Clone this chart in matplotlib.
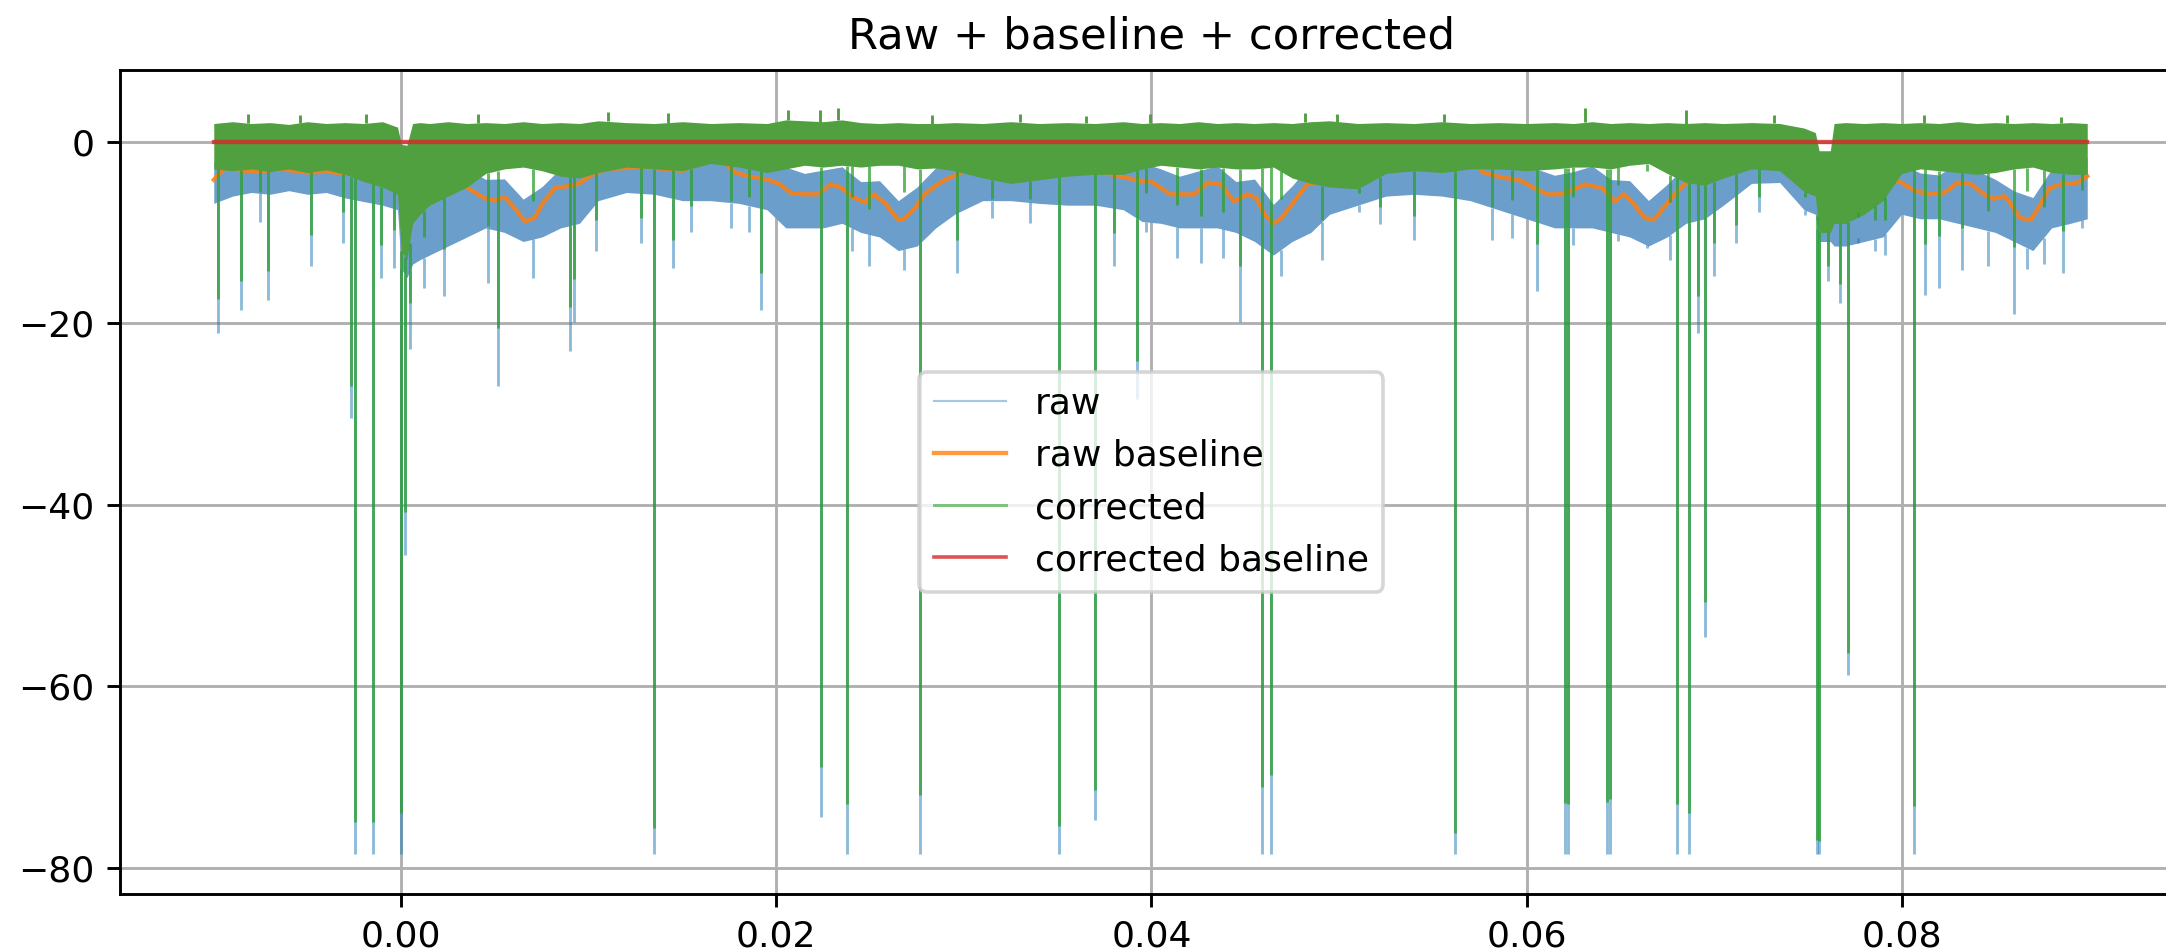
import numpy as np
import matplotlib.pyplot as plt
from matplotlib.lines import Line2D

# raw baseline (orange)
base_x = [-0.0100, -0.0094, -0.0085, -0.0075, -0.0065, -0.0050, -0.0040, -0.0030, -0.0020,
          -0.0012, -0.0007, 0.0000, 0.0008, 0.0016, 0.0022, 0.0028, 0.0034, 0.0044, 0.0050,
          0.0055, 0.0060, 0.0066, 0.0071, 0.0076, 0.0082, 0.0089, 0.0095, 0.0102, 0.0110,
          0.0130, 0.0150, 0.0160, 0.0171, 0.0178, 0.0185, 0.0190, 0.0197, 0.0202, 0.0208,
          0.0215, 0.0222, 0.0229, 0.0234, 0.0240, 0.0247, 0.0252, 0.0258, 0.0265, 0.0268,
          0.0274, 0.0279, 0.0286, 0.0291, 0.0297, 0.0307, 0.0320, 0.0346, 0.0357, 0.0375,
          0.0382, 0.0394, 0.0400, 0.0405, 0.0410, 0.0423, 0.0430, 0.0437, 0.0444, 0.0451,
          0.0456, 0.0460, 0.0465, 0.0469, 0.0476, 0.0483, 0.0490, 0.0501, 0.0508, 0.0519,
          0.0531, 0.0551, 0.0560, 0.0569, 0.0577, 0.0586, 0.0597, 0.0604, 0.0611, 0.0618,
          0.0625, 0.0631, 0.0640, 0.0647, 0.0652, 0.0657, 0.0663, 0.0668, 0.0673, 0.0679,
          0.0684, 0.0691, 0.0700, 0.0707, 0.0716, 0.0727, 0.0734, 0.0746, 0.0757, 0.0793,
          0.0799, 0.0807, 0.0815, 0.0823, 0.0830, 0.0837, 0.0844, 0.0849, 0.0855, 0.0858,
          0.0863, 0.0869, 0.0874, 0.0879, 0.0885, 0.0894, 0.0899]
base_y = [-4.2, -2.9, -3.2, -3.3, -3.0, -3.4, -3.3, -3.5, -3.6,
          -3.5, -3.9, -4.5, -5.4, -5.7, -5.3, -4.7, -4.9, -6.2, -6.5,
          -6.1, -7.2, -8.8, -8.4, -6.6, -5.1, -4.9, -4.6, -3.6, -3.0,
          -2.8, -3.2, -2.2, -2.0, -3.4, -3.8, -4.0, -4.3, -4.7, -5.7,
          -5.8, -5.8, -4.7, -5.0, -6.0, -6.7, -5.8, -6.8, -8.6, -8.5,
          -7.3, -5.8, -4.7, -4.1, -3.6, -2.2, -2.0, -3.1, -3.1, -3.4,
          -3.8, -4.3, -4.4, -5.1, -5.8, -5.8, -4.5, -4.7, -6.6, -5.8,
          -6.2, -7.9, -9.0, -8.5, -6.6, -4.7, -4.4, -3.5, -2.2, -1.8,
          -2.2, -3.1, -2.5, -1.6, -3.4, -3.9, -4.3, -5.1, -5.8, -5.8,
          -5.3, -4.7, -5.1, -6.6, -5.8, -6.8, -8.4, -8.6, -7.3, -5.8,
          -4.7, -4.1, -3.6, -2.3, -1.8, -1.6, -2.2, -2.2, -1.4, -4.0,
          -4.4, -5.4, -5.8, -5.6, -4.5, -4.7, -5.8, -6.3, -6.0, -6.8,
          -8.4, -8.6, -6.9, -5.1, -4.7, -4.5, -3.8]

# corrected baseline (red)
cbase_x = [-0.0100, 0.0899]
cbase_y = [0.0, 0.0]

# edges of the dense noise bands
env_x = [-0.0100, -0.0090, -0.0080, -0.0070, -0.0060, -0.0050, -0.0040, -0.0030, -0.0020,
         -0.0010, -0.0002, 0.0000, 0.0003, 0.0006, 0.0010, 0.0015, 0.0025, 0.0035, 0.0045,
         0.0055, 0.0065, 0.0075, 0.0085, 0.0095, 0.0105, 0.0120, 0.0135, 0.0150, 0.0165,
         0.0180, 0.0195, 0.0205, 0.0215, 0.0225, 0.0235, 0.0245, 0.0255, 0.0265, 0.0275,
         0.0285, 0.0295, 0.0310, 0.0325, 0.0340, 0.0355, 0.0370, 0.0385, 0.0395, 0.0405,
         0.0415, 0.0425, 0.0435, 0.0445, 0.0455, 0.0465, 0.0475, 0.0485, 0.0495, 0.0510,
         0.0525, 0.0540, 0.0555, 0.0570, 0.0585, 0.0600, 0.0615, 0.0625, 0.0635, 0.0645,
         0.0655, 0.0665, 0.0675, 0.0685, 0.0695, 0.0705, 0.0720, 0.0735, 0.0748, 0.0754,
         0.0756, 0.0762, 0.0764, 0.0770, 0.0780, 0.0790, 0.0800, 0.0810, 0.0820, 0.0830,
         0.0840, 0.0850, 0.0860, 0.0870, 0.0880, 0.0890, 0.0899]
corr_hi = [2.0, 2.2, 2.0, 2.1, 1.9, 2.2, 2.0, 2.1, 2.0,
           2.2, 1.6, -0.3, -0.4, 2.0, 2.1, 2.0, 2.2, 2.0, 2.1,
           2.0, 2.2, 2.0, 2.1, 2.0, 2.3, 2.1, 2.0, 2.2, 2.0,
           2.1, 2.0, 2.4, 2.3, 2.2, 2.4, 2.1, 2.0, 2.1, 2.0,
           2.0, 2.1, 2.0, 2.2, 2.0, 2.1, 2.0, 2.2, 2.0, 2.1,
           2.0, 2.2, 2.0, 2.1, 2.0, 2.1, 2.0, 2.2, 2.3, 2.0,
           2.1, 2.0, 2.2, 2.0, 2.1, 2.0, 2.1, 2.0, 2.2, 2.0,
           2.1, 2.0, 2.1, 2.0, 2.1, 2.0, 2.1, 2.0, 1.5, 1.0,
           -1.0, -1.0, 2.0, 2.1, 2.0, 2.1, 2.0, 2.1, 2.0, 2.2,
           2.0, 2.1, 2.0, 2.1, 2.0, 2.1, 2.0]
corr_lo = [-3.0, -3.2, -3.0, -3.3, -3.0, -3.4, -3.1, -3.6, -4.4,
           -5.0, -5.8, -12.0, -13.0, -9.0, -8.0, -7.0, -6.0, -5.0, -3.5,
           -3.0, -2.8, -3.2, -3.8, -4.0, -3.4, -2.8, -3.0, -3.2, -2.4,
           -2.8, -3.4, -3.0, -2.6, -2.8, -2.6, -2.8, -2.6, -2.6, -3.0,
           -2.9, -3.2, -4.0, -4.6, -4.2, -3.8, -3.6, -3.6, -3.0, -2.6,
           -2.8, -3.0, -2.8, -3.0, -3.0, -2.8, -4.0, -4.6, -5.0, -5.2,
           -3.5, -3.2, -3.4, -3.0, -3.0, -3.2, -3.0, -2.8, -2.8, -3.0,
           -2.6, -2.4, -3.5, -4.5, -4.8, -4.0, -3.0, -3.2, -5.5, -6.0,
           -10.0, -10.0, -9.0, -9.0, -8.0, -6.5, -3.5, -3.0, -3.2, -3.4,
           -3.6, -3.4, -3.0, -2.8, -3.4, -3.6, -3.6]
raw_lo = [-6.8, -6.0, -5.6, -5.8, -5.4, -5.8, -5.6, -6.2, -6.6,
          -7.0, -7.5, -14.0, -15.0, -13.5, -13.0, -12.5, -11.5, -10.5, -9.5,
          -10.0, -11.0, -10.5, -9.5, -9.0, -6.5, -5.6, -5.8, -6.5, -6.5,
          -6.8, -7.5, -9.5, -9.5, -9.5, -9.0, -10.0, -10.5, -12.0, -11.5,
          -9.5, -8.0, -6.5, -6.5, -6.8, -7.0, -7.0, -7.5, -8.8, -9.0,
          -9.5, -9.5, -9.5, -10.0, -11.0, -12.5, -11.0, -10.0, -8.0, -7.0,
          -6.0, -5.8, -6.0, -6.5, -7.5, -8.5, -9.5, -9.5, -9.5, -10.0,
          -10.5, -11.5, -10.5, -9.0, -8.5, -7.0, -4.6, -4.5, -7.5, -8.0,
          -11.0, -11.0, -11.5, -11.5, -11.0, -10.5, -8.0, -8.5, -8.5, -9.0,
          -9.5, -10.0, -11.0, -12.0, -9.5, -9.0, -8.5]

# small upward peaks of the corrected trace
peak_x = [-0.0082, -0.0054, -0.0019, 0.0041, 0.0110, 0.0142, 0.0206, 0.0223, 0.0233,
          0.0283, 0.0330, 0.0365, 0.0399, 0.0482, 0.0499, 0.0556, 0.0631, 0.0685,
          0.0732, 0.0812, 0.0856, 0.0885]
peak_y = [3.0, 2.9, 3.0, 3.0, 3.3, 3.2, 3.5, 3.5, 3.7,
          2.9, 3.0, 2.8, 3.0, 3.2, 3.0, 3.0, 3.7, 3.5,
          2.9, 2.9, 2.9, 2.7]

# downward spikes: depth reached by the raw trace
dip_x = [-0.00978, -0.00854, -0.00751, -0.00710, -0.00481, -0.00312, -0.00266, -0.00247,
         -0.00150, -0.00108, -0.00041, 0.00000, 0.00020, 0.00044, 0.00120, 0.00230,
         0.00460, 0.00513, 0.00700, 0.00897, 0.00920, 0.01040, 0.01280, 0.01346, 0.01450,
         0.01544, 0.01757, 0.01855, 0.01917, 0.02236, 0.02374, 0.02405, 0.02494, 0.02680,
         0.02766, 0.02965, 0.03150, 0.03350, 0.03507, 0.03700, 0.03800, 0.03925, 0.03970,
         0.04137, 0.04262, 0.04383, 0.04472, 0.04587, 0.04638, 0.04690, 0.04910, 0.05105,
         0.05217, 0.05399, 0.05616, 0.05816, 0.05922, 0.06056, 0.06207, 0.06222, 0.06250,
         0.06430, 0.06447, 0.06490, 0.06642, 0.06767, 0.06801, 0.06866, 0.06912, 0.06953,
         0.06998, 0.07118, 0.07242, 0.07486, 0.07551, 0.07562, 0.07610, 0.07673, 0.07714,
         0.07770, 0.07860, 0.07912, 0.08065, 0.08125, 0.08197, 0.08321, 0.08463, 0.08600,
         0.08668, 0.08757, 0.08859, 0.08962]
dip_raw = [-21.1, -18.5, -8.8, -17.4, -13.7, -11.2, -30.5, -78.5,
           -78.5, -15.0, -13.9, -78.5, -45.5, -22.8, -16.1, -17.0,
           -15.6, -26.9, -15.0, -23.1, -19.9, -12.1, -11.2, -78.5, -13.9,
           -9.9, -9.5, -9.9, -18.5, -74.4, -78.5, -12.1, -13.7, -14.1,
           -78.5, -14.5, -8.4, -9.0, -78.5, -74.7, -13.7, -28.4, -10.0,
           -12.8, -13.4, -12.8, -19.9, -78.5, -78.5, -14.8, -13.0, -7.8,
           -9.1, -10.8, -78.5, -10.8, -10.6, -16.5, -78.5, -78.5, -11.4,
           -78.5, -78.5, -11.0, -11.7, -13.0, -78.5, -78.5, -21.1, -54.6,
           -14.8, -11.2, -7.8, -8.1, -78.5, -78.5, -15.4, -17.8, -58.8,
           -10.6, -12.1, -12.5, -78.5, -16.9, -16.1, -14.1, -13.7, -19.0,
           -14.0, -13.5, -14.5, -9.5]

fig = plt.figure(figsize=(2166 / 260, 952 / 260), dpi=260)
ax = fig.add_axes([0.0554, 0.0609, 0.9524, 0.8656])
ax.set_axisbelow(True)
ax.grid(True)

env = np.array(env_x)
raw_hi = np.interp(env, base_x, base_y) + np.array(corr_hi)
dx = np.array(dip_x)
dip_corr = np.array(dip_raw) - np.interp(dx, base_x, base_y)

# raw
ax.fill_between(env, raw_lo, raw_hi, color='#6c9ecc', lw=0, zorder=2)
ax.vlines(dx, np.interp(dx, env, raw_lo), dip_raw, color='C0', alpha=0.5, lw=0.8, zorder=2)
# raw baseline
ax.plot(base_x, base_y, color='C1', lw=1.2, alpha=0.85, zorder=3)
# corrected
ax.fill_between(env, corr_lo, corr_hi, color='#50a040', lw=0, zorder=4)
ax.vlines(dx, np.interp(dx, env, corr_lo), dip_corr, color='C2', alpha=0.75, lw=0.8, zorder=4)
ax.vlines(peak_x, np.interp(peak_x, env, corr_hi), peak_y, color='#50a040', lw=0.8, zorder=4)
# corrected baseline
ax.plot(cbase_x, cbase_y, color='C3', lw=1.2, alpha=0.8, zorder=5)

ax.set_xlim(-0.015, 0.095)
ax.set_ylim(-82.9, 7.9)
ax.set_title('Raw + baseline + corrected')

handles = [Line2D([], [], color='C0', alpha=0.4, lw=0.6),
           Line2D([], [], color='C1', alpha=0.8, lw=1.2),
           Line2D([], [], color='C2', alpha=0.6, lw=0.8),
           Line2D([], [], color='C3', alpha=0.8, lw=1.0)]
ax.legend(handles, ['raw', 'raw baseline', 'corrected', 'corrected baseline'], loc='center')

fig.savefig('out.png', dpi=260)
